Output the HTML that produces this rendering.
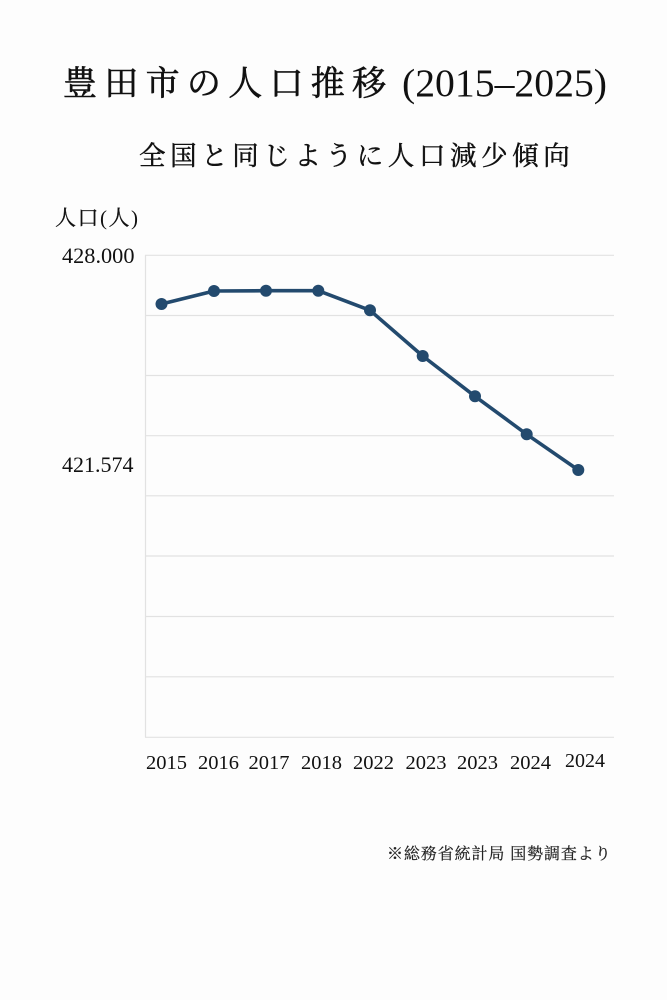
<!DOCTYPE html>
<html>
<head>
<meta charset="utf-8">
<style>
html,body{margin:0;padding:0;background:#fdfdfd;}
body{width:667px;height:1000px;overflow:hidden;position:relative;}
svg{position:absolute;left:0;top:0;}
.cjk{font-family:"Liberation Serif","Noto Serif CJK SC",serif;}
.num{font-family:"Liberation Serif",serif;}
</style>
</head>
<body>
<svg width="667" height="1000" viewBox="0 0 667 1000" xmlns="http://www.w3.org/2000/svg">
  <rect x="0" y="0" width="667" height="1000" fill="#fdfdfd"/>
  <!-- Title -->
  <text x="63" y="95" class="cjk" font-size="34" letter-spacing="7.3" fill="#111" stroke="#111" stroke-width="0.6">豊田市の人口推移</text>
  <text x="402" y="96" class="num" font-size="39.5" fill="#111" textLength="205" lengthAdjust="spacingAndGlyphs">(2015–2025)</text>
  <!-- Subtitle -->
  <text x="139" y="165" class="cjk" font-size="26.5" letter-spacing="4.6" fill="#111" stroke="#111" stroke-width="0.45">全国と同じように人口減少傾向</text>
  <!-- Y axis label -->
  <text x="55" y="225" class="cjk" font-size="21" fill="#111" stroke="#111" stroke-width="0.3" letter-spacing="1.5">人口<tspan font-family="Liberation Serif" stroke-width="0">(</tspan>人<tspan font-family="Liberation Serif" stroke-width="0">)</tspan></text>
  <!-- gridlines -->
  <g stroke="#e2e2e2" stroke-width="1.2" fill="none">
    <line x1="145" y1="255.3" x2="614" y2="255.3"/>
    <line x1="145" y1="315.5" x2="614" y2="315.5"/>
    <line x1="145" y1="375.5" x2="614" y2="375.5"/>
    <line x1="145" y1="435.7" x2="614" y2="435.7"/>
    <line x1="145" y1="495.8" x2="614" y2="495.8"/>
    <line x1="145" y1="556" x2="614" y2="556"/>
    <line x1="145" y1="616.5" x2="614" y2="616.5"/>
    <line x1="145" y1="676.8" x2="614" y2="676.8"/>
    <line x1="145" y1="737.3" x2="614" y2="737.3"/>
    <line x1="145.5" y1="255" x2="145.5" y2="737.5"/>
  </g>
  <!-- y tick labels -->
  <text x="62" y="263" class="num" font-size="22.3" fill="#111">428.000</text>
  <text x="62" y="472" class="num" font-size="22" fill="#111">421.574</text>
  <!-- series -->
  <polyline fill="none" stroke="#234a6e" stroke-width="3.6" stroke-linejoin="round" stroke-linecap="round"
    points="161.5,304 214,291 266,290.7 318.3,290.7 370,310.3 422.7,356 475,396.3 526.7,434.3 578.3,470"/>
  <g fill="#234a6e">
    <circle cx="161.5" cy="304" r="6"/>
    <circle cx="214" cy="291" r="6"/>
    <circle cx="266" cy="290.7" r="6"/>
    <circle cx="318.3" cy="290.7" r="6"/>
    <circle cx="370" cy="310.3" r="6"/>
    <circle cx="422.7" cy="356" r="6"/>
    <circle cx="475" cy="396.3" r="6"/>
    <circle cx="526.7" cy="434.3" r="6"/>
    <circle cx="578.3" cy="470" r="6"/>
  </g>
  <!-- x labels -->
  <g class="num" font-size="20.5" fill="#111">
    <text x="146" y="769">2015</text>
    <text x="198" y="769">2016</text>
    <text x="248.5" y="769">2017</text>
    <text x="301" y="769">2018</text>
    <text x="353" y="769">2022</text>
    <text x="405.5" y="769">2023</text>
    <text x="457" y="769">2023</text>
    <text x="510" y="769">2024</text>
    <text x="565" y="767" textLength="40" lengthAdjust="spacingAndGlyphs">2024</text>
  </g>
  <!-- footnote -->
  <text x="387" y="859" class="cjk" font-size="16" letter-spacing="0.9" fill="#222" stroke="#222" stroke-width="0.2">※総務省統計局 国勢調査より</text>
</svg>
</body>
</html>
